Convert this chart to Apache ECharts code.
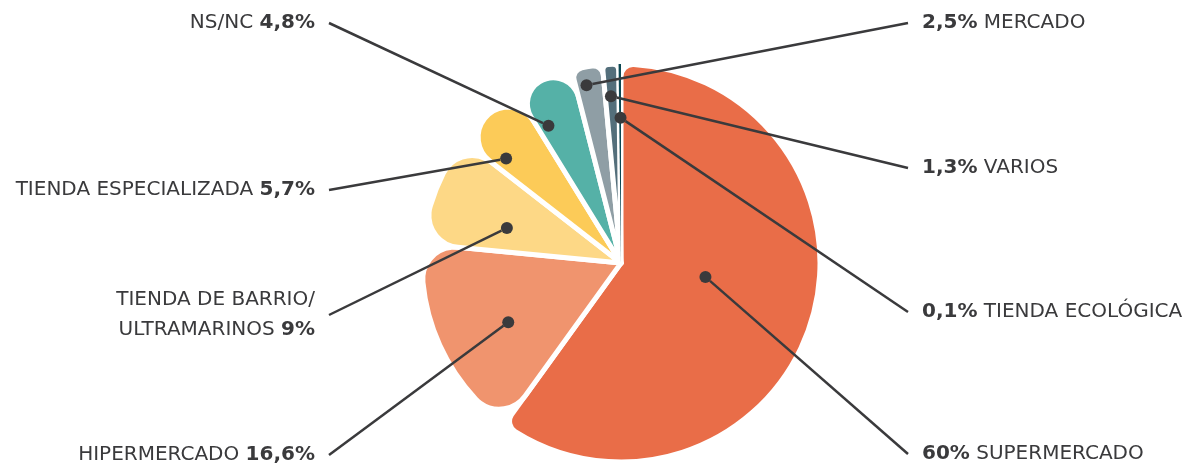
<!DOCTYPE html>
<html>
<head>
<meta charset="utf-8">
<script src="https://cdn.jsdelivr.net/npm/echarts@6/dist/echarts.min.js"></script>
<style>
  html, body { margin: 0; padding: 0; background: #ffffff; }
  #chart { width: 1192px; height: 465px; }
</style>
</head>
<body>
<div id="chart"></div>
<script>
// Lugar de compra habitual (% de respuestas), en sentido horario desde las 12
const categories = [
  'SUPERMERCADO',
  'HIPERMERCADO',
  'TIENDA DE BARRIO/\nULTRAMARINOS',
  'TIENDA ESPECIALIZADA',
  'NS/NC',
  'MERCADO',
  'VARIOS',
  'TIENDA ECOLÓGICA'
];
const shares = [60, 16.6, 9, 5.7, 4.8, 2.5, 1.3, 0.1];

// slice colours and outer corner rounding
const colors = ['#E96D48', '#F0946E', '#FDD886', '#FCCB58', '#55B1A7', '#8F9EA5', '#546F7B', '#0C4853'];
const cornerRadius = [12, 32, 32, 32, 32, 10, 6, 0];

// label placement: which side and vertical centre of each label
const labelSide = ['right', 'left', 'left', 'left', 'left', 'right', 'right', 'right'];
const labelY = [454, 455, 315, 190, 23, 23, 168, 312];

// leader dot inside each slice: share of the slice's angle, fraction of the radius
const dotAlong = [0.46, 0.44, 0.35, 0.2, 0.2, 0.34, 0.34, 0.5];
const dotDepth = [0.43, 0.64, 0.6, 0.78, 0.78, 0.91, 0.84, 0.73];

const CENTER = [621, 263];
const RADIUS = 199;
const INK = '#3A3A3C';
const FONT = 'DejaVu Sans';

const pct = v => String(v).replace('.', ',') + '%';

// pie slices
const pieData = categories.map((name, i) => {
  const item = {
    name: name,
    value: shares[i],
    itemStyle: { color: colors[i], borderRadius: cornerRadius[i] }
  };
  // the thinnest slice is drawn without a white border so it stays visible
  if (i === categories.length - 1) item.itemStyle.borderWidth = 0;
  return item;
});

// dots placed in polar coordinates that share the pie's geometry
let acc = 0;
const dotData = categories.map((name, i) => {
  const angle = acc + shares[i] * dotAlong[i];
  acc += shares[i];
  return { name: name, value: [dotDepth[i], angle] };
});

const chart = echarts.init(document.getElementById('chart'), null, { renderer: 'canvas' });

chart.setOption({
  animation: false,
  backgroundColor: '#ffffff',
  polar: { center: CENTER, radius: RADIUS },
  angleAxis: {
    type: 'value', min: 0, max: 100, startAngle: 90, clockwise: true,
    show: false, axisLine: { show: false }, splitLine: { show: false }
  },
  radiusAxis: { type: 'value', min: 0, max: 1, show: false, splitLine: { show: false } },
  series: [
    {
      type: 'pie',
      center: CENTER,
      radius: [0, RADIUS],
      startAngle: 90,
      clockwise: true,
      minAngle: 0.7,
      silent: true,
      label: { show: false },
      labelLine: { show: false },
      itemStyle: { borderColor: '#ffffff', borderWidth: 5 },
      data: pieData
    },
    {
      type: 'scatter',
      coordinateSystem: 'polar',
      symbol: 'circle',
      symbolSize: 12,
      silent: true,
      itemStyle: { color: INK, opacity: 1 },
      data: dotData,
      label: {
        show: true,
        color: INK,
        opacity: 1,
        fontFamily: FONT,
        fontSize: 20,
        lineHeight: 30,
        padding: [0, 14, 0, 14],
        formatter: p => {
          const i = p.dataIndex;
          const v = pct(shares[i]);
          return labelSide[i] === 'left'
            ? categories[i] + ' {b|' + v + '}'
            : '{b|' + v + '} ' + categories[i];
        },
        rich: {
          b: { fontWeight: 'bold', color: INK, fontFamily: FONT, fontSize: 20, lineHeight: 30 }
        }
      },
      labelLine: {
        show: true,
        length2: 0,
        lineStyle: { color: INK, width: 2.5, opacity: 1 }
      },
      labelLayout: p => {
        const i = p.dataIndex;
        const left = labelSide[i] === 'left';
        return {
          x: left ? 329 : 908,
          y: labelY[i],
          align: left ? 'right' : 'left',
          verticalAlign: 'middle'
        };
      }
    }
  ]
});
</script>
</body>
</html>
